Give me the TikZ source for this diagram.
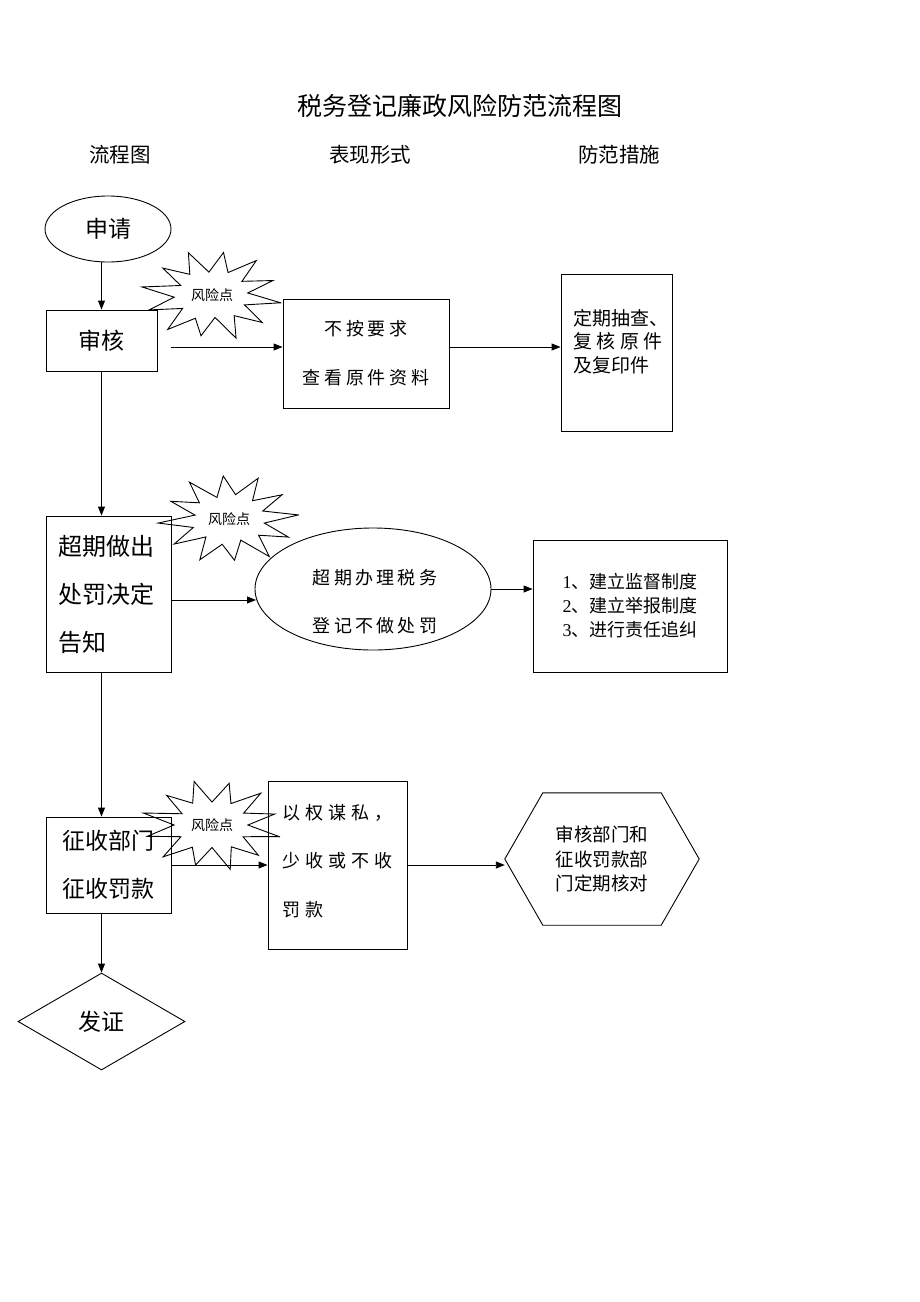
\documentclass[tikz,border=0pt]{standalone}
\usepackage{fontspec}
\setmainfont{Noto Sans CJK SC}
\newfontfamily\tnr{Liberation Serif}
\usetikzlibrary{shapes.geometric,arrows.meta,calc}
\begin{document}
\begin{tikzpicture}[x=1pt,y=-1pt,
  box/.style={draw,line width=0.9pt,rectangle,inner sep=0pt},
  plain/.style={inner sep=0pt},
  arr/.style={line width=0.9pt,-{Triangle[length=9pt,width=7pt]}},
  ln/.style={line width=0.9pt},
  big/.style={font=\fontsize{23}{48}\selectfont},
  mid/.style={font=\fontsize{18}{49}\selectfont\addfontfeature{LetterSpace=22}},
  small/.style={font=\fontsize{18}{24}\selectfont},
  risk/.style={font=\fontsize{14}{16}\selectfont},
  starst/.style={draw,fill=white,line width=0.9pt,line join=miter},
]
\fill[white] (0,0) rectangle (920,1302);
\useasboundingbox (0,0) rectangle (920,1302);

% title and headers
\node[plain,font=\fontsize{25}{27}\selectfont] (title) at (460,106) {税务登记廉政风险防范流程图};
\node[plain,font=\fontsize{20.5}{22}\selectfont] (h1) at (120,155) {流程图};
\node[plain,font=\fontsize{20.5}{22}\selectfont] (h2) at (370,155) {表现形式};
\node[plain,font=\fontsize{20.5}{22}\selectfont] (h3) at (619,155) {防范措施};

% risk stars
\newcommand{\riskstar}[4]{%
  \draw[starst,shift={(#1,#2)}] (#3:69 and 45)
    \foreach \r [count=\i] in {0.52,0.95,0.56,1.02,0.5,0.92,0.57,1.0,0.52,0.97,0.55,1.03,0.5,0.93,0.56,1.0,0.51,0.96,0.55,1.0,0.53,0.94,0.52,1.02}
    { -- ({#3+\i*360/24}:{69*\r} and {45*\r}) } -- cycle;
  \node[plain,risk] (#4) at (#1,#2) {风险点};}
\riskstar{212}{295}{10}{risk1}
\riskstar{229}{519}{-5}{risk2}
\riskstar{212}{825}{15}{risk3}

% flow column
\node[draw,ellipse,line width=0.9pt,minimum width=126pt,minimum height=66pt,inner sep=0pt,big] (apply) at (108,229) {申请};
\node[box,minimum width=111pt,minimum height=61pt,big] (shenhe) at (101.5,340.5) {审核};
\node[box,minimum width=125pt,minimum height=156pt,font=\fontsize{24}{48}\selectfont,align=left,text width=100pt] (chaoqi) at (108.5,594) {超期做出\\处罚决定\\告知};
\node[box,minimum width=125pt,minimum height=96pt,big,align=center] (zhengshou) at (108.5,865) {征收部门\\征收罚款};
\node[draw,diamond,aspect=1.72,line width=0.9pt,minimum width=167pt,minimum height=97pt,inner sep=0pt,big] (fazheng) at (101.5,1021.5) {发证};

% expression column
\node[box,minimum width=166pt,minimum height=109pt,mid,align=center] (buan) at (366,353.5) {不按要求\\查看原件资料};
\node[draw,ellipse,line width=0.9pt,minimum width=236pt,minimum height=122pt,inner sep=0pt] (chaoban) at (373,589) {};
\node[plain,font=\fontsize{18}{48}\selectfont\addfontfeature{LetterSpace=18},align=center] (chaobant) at (375,602) {超期办理税务\\登记不做处罚};
\node[box,minimum width=139pt,minimum height=168pt] (yiquan) at (337.5,865) {};
\node[plain,anchor=north west,font=\fontsize{18}{48.5}\selectfont\addfontfeature{LetterSpace=28},align=left] (yiquant) at (282,804) {以权谋私，\\少收或不收\\罚款};

% measures column
\node[box,minimum width=111pt,minimum height=157pt] (dingqi) at (616.5,352.5) {};
\node[plain,anchor=north west,font=\fontsize{19}{23.5}\selectfont,align=left] (dingqit) at (573,309) {定期抽查、\\复\hspace{4.5pt}核\hspace{4.5pt}原\hspace{4.5pt}件\\及复印件};
\node[box,minimum width=194pt,minimum height=132pt,small,align=left] (jianli) at (630,606) {{\tnr 1}、建立监督制度\\{\tnr 2}、建立举报制度\\{\tnr 3}、进行责任追纠};
\node[plain,minimum width=194pt,minimum height=132pt,font=\fontsize{18.5}{24.5}\selectfont,align=center] (hexa) at (602,859) {审核部门和\\征收罚款部\\门定期核对};
\draw[ln] (hexa.west) -- ([xshift=38pt]hexa.north west) -- ([xshift=-38pt]hexa.north east) -- (hexa.east) -- ([xshift=-38pt]hexa.south east) -- ([xshift=38pt]hexa.south west) -- cycle;

% connectors
\draw[arr] (shenhe.north |- apply.south) -- (shenhe.north);
\coordinate (c1) at (171,347);
\draw[arr] (c1) -- (c1 -| buan.west);
\draw[arr] (c1 -| buan.east) -- (c1 -| dingqi.west);
\draw[arr] (shenhe.south) -- (shenhe.south |- chaoqi.north);
\coordinate (c2) at (171,600);
\draw[arr] (c2) -- (256,600);
\draw[arr] (chaoban.east) -- (chaoban.east -| jianli.west);
\draw[arr] (shenhe.south |- chaoqi.south) -- (shenhe.south |- zhengshou.north);
\coordinate (c3) at (171,865);
\draw[arr] (c3) -- (c3 -| yiquan.west);
\draw[arr] (c3 -| yiquan.east) -- (c3 -| hexa.west);
\draw[arr] (shenhe.south |- zhengshou.south) -- (fazheng.north);
\end{tikzpicture}
\end{document}
